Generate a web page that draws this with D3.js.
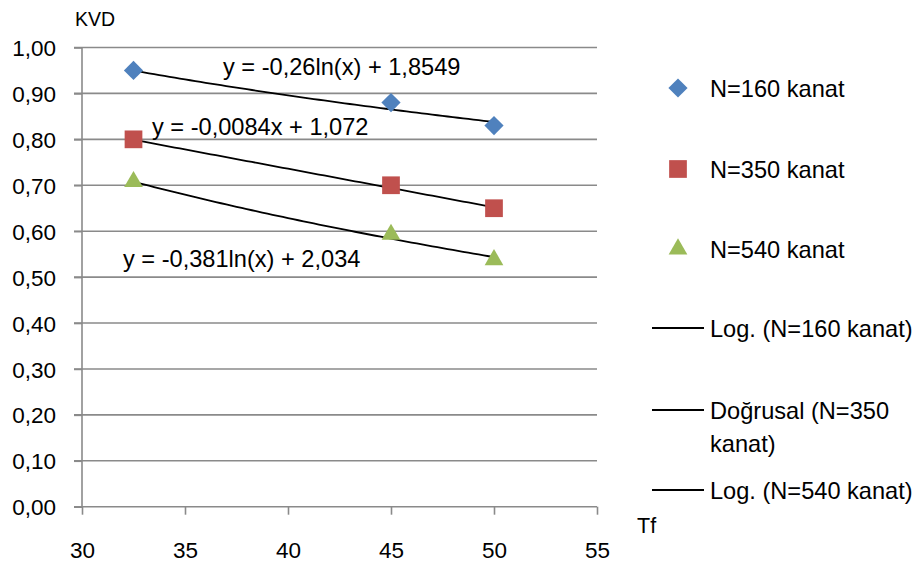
<!DOCTYPE html>
<html>
<head>
<meta charset="utf-8">
<script src="https://cdn.jsdelivr.net/npm/d3@7/dist/d3.min.js"></script>
<style>
  html, body { margin: 0; padding: 0; background: #fff; }
  svg text { font-family: "Liberation Sans", Arial, sans-serif; fill: #000; }
</style>
</head>
<body>
<svg id="chart" width="919" height="565"></svg>
<script>
// Measured KVD values for each blade count, against Tf
const tfValues = [32.5, 45, 50];
const kvd160 = [0.95, 0.88, 0.83];
const kvd350 = [0.80, 0.70, 0.65];
const kvd540 = [0.71, 0.595, 0.54];

// Trend line equations shown on the chart
const fit160 = { type: "log", a: -0.26, b: 1.8549, label: "y = -0,26ln(x) + 1,8549" };
const fit350 = { type: "lin", a: -0.0084, b: 1.072, label: "y = -0,0084x + 1,072" };
const fit540 = { type: "log", a: -0.381, b: 2.034, label: "y = -0,381ln(x) + 2,034" };

const xTicks = [30, 35, 40, 45, 50, 55];
const yTicks = [0, 0.1, 0.2, 0.3, 0.4, 0.5, 0.6, 0.7, 0.8, 0.9, 1.0];

const seriesNames = ["N=160 kanat", "N=350 kanat", "N=540 kanat"];
const trendNames = ["Log. (N=160 kanat)", "Doğrusal (N=350|kanat)", "Log. (N=540 kanat)"];

const colors = ["#4F81BD", "#C0504D", "#9BBB59"];
const gridColor = "#8a8a8a";

const svg = d3.select("#chart");
const x = d3.scaleLinear().domain([30, 55]).range([82, 597]);
const y = d3.scaleLinear().domain([0, 1]).range([506.7, 47.5]);
const fmt = d => d3.format(".2f")(d).replace(".", ",");

// horizontal gridlines
svg.append("g").selectAll("line").data(yTicks.filter(d => d > 0)).join("line")
  .attr("x1", 74).attr("x2", 597)
  .attr("y1", d => y(d)).attr("y2", d => y(d))
  .attr("stroke", gridColor).attr("stroke-width", 1.6);

// y axis
const yAxis = svg.append("g").attr("transform", "translate(82,0)")
  .call(d3.axisLeft(y).tickValues(yTicks).tickFormat(fmt).tickSize(8).tickPadding(18));
yAxis.select(".domain").attr("stroke", gridColor).attr("stroke-width", 1.6)
  .attr("d", `M0,${y(1)}V${y(0)}`);
yAxis.selectAll(".tick line").attr("stroke", gridColor).attr("stroke-width", 1.6);
yAxis.selectAll(".tick text").attr("font-size", 22.5).attr("dy", "0.36em")
  .style("font-family", '"Liberation Sans", Arial, sans-serif');

// x axis
const xAxis = svg.append("g").attr("transform", `translate(0,${y(0)})`)
  .call(d3.axisBottom(x).tickValues(xTicks).tickFormat(d3.format("d")).tickSize(8).tickPadding(27));
xAxis.select(".domain").attr("stroke", gridColor).attr("stroke-width", 1.6)
  .attr("d", `M${x(30) - 8},0H${x(55)}`);
xAxis.selectAll(".tick line").attr("stroke", gridColor).attr("stroke-width", 1.6);
xAxis.selectAll(".tick text").attr("font-size", 22.5)
  .style("font-family", '"Liberation Sans", Arial, sans-serif');

// axis titles
svg.append("text").attr("x", 75).attr("y", 26).attr("font-size", 19.5).text("KVD");
svg.append("text").attr("x", 637).attr("y", 533).attr("font-size", 21.5).text("Tf");

// trend lines from the fitted equations
function trendY(f, t) { return f.type === "log" ? f.a * Math.log(t) + f.b : f.a * t + f.b; }
const fits = [fit160, fit350, fit540];
const xDomainFit = d3.range(32.5, 50.001, 0.25);
const line = d3.line().x(d => x(d[0])).y(d => y(d[1]));
fits.forEach(f => {
  svg.append("path")
    .attr("d", line(xDomainFit.map(t => [t, trendY(f, t)])))
    .attr("fill", "none").attr("stroke", "#000").attr("stroke-width", 1.8);
});

// markers
const sym = [d3.symbolDiamond2, d3.symbolSquare2, d3.symbolTriangle2];
const symSize = [235, 400, 250];
[kvd160, kvd350, kvd540].forEach((vals, i) => {
  svg.append("g").selectAll("path").data(vals).join("path")
    .attr("transform", (d, j) => `translate(${x(tfValues[j])},${y(d) + (i === 2 ? 1 : 0)})`)
    .attr("d", d3.symbol().type(sym[i]).size(symSize[i])())
    .attr("fill", colors[i]);
});

// equation labels
svg.append("text").attr("x", 223).attr("y", 74.5).attr("font-size", 23.6).text(fit160.label);
svg.append("text").attr("x", 152).attr("y", 135).attr("font-size", 23.6).text(fit350.label);
svg.append("text").attr("x", 123).attr("y", 266.5).attr("font-size", 23.6).text(fit540.label);

// legend
const legendY = [88, 169, 249];
seriesNames.forEach((name, i) => {
  svg.append("path")
    .attr("transform", `translate(678,${legendY[i]})`)
    .attr("d", d3.symbol().type(sym[i]).size(symSize[i])())
    .attr("fill", colors[i]);
  svg.append("text").attr("x", 710).attr("y", legendY[i] + 8.5).attr("font-size", 23.6).text(name);
});
const trendLegendY = [328, 410, 490];
trendNames.forEach((name, i) => {
  svg.append("line").attr("x1", 652).attr("x2", 704)
    .attr("y1", trendLegendY[i]).attr("y2", trendLegendY[i])
    .attr("stroke", "#000").attr("stroke-width", 1.8);
  const t = svg.append("text").attr("x", 710).attr("y", trendLegendY[i] + 8.5).attr("font-size", 23.6);
  name.split("|").forEach((part, k) => {
    t.append("tspan").attr("x", 710).attr("dy", k === 0 ? 0 : 33).text(part);
  });
});
</script>
</body>
</html>
